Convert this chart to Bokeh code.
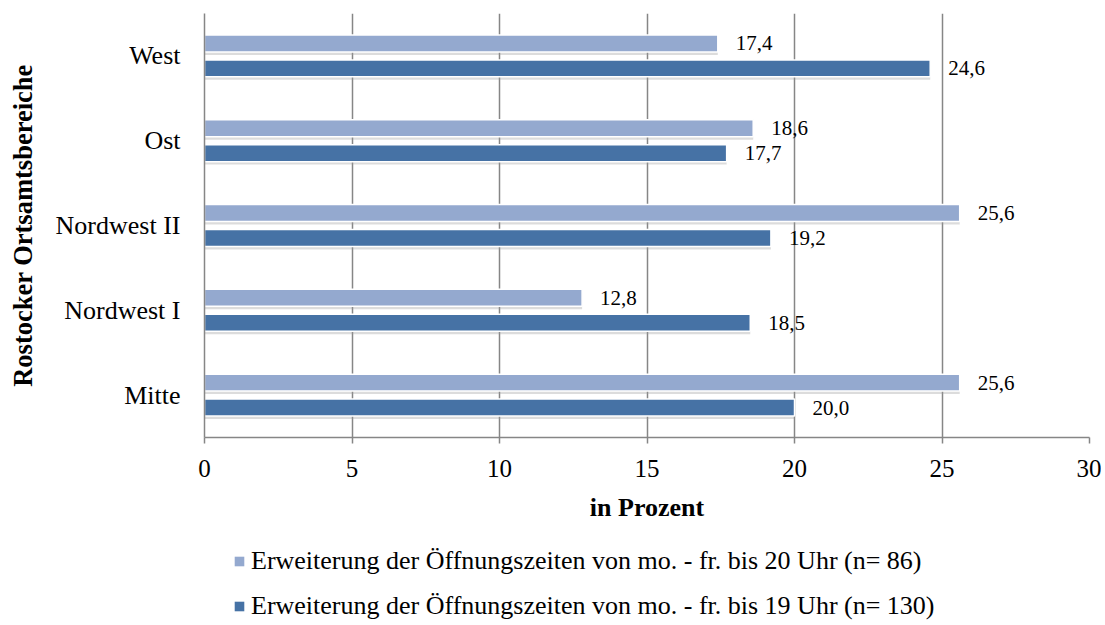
from bokeh.plotting import figure
from bokeh.layouts import column
from bokeh.models import ColumnDataSource, FactorRange, Range1d, Legend, LegendItem, FixedTicker
from bokeh.transform import dodge
from bokeh.embed import file_html
from bokeh.resources import INLINE

# ---- data ----
categories = ["Mitte", "Nordwest I", "Nordwest II", "Ost", "West"]
values_20 = [25.6, 12.8, 25.6, 18.6, 17.4]   # mo.-fr. bis 20 Uhr (n= 86)
values_19 = [20.0, 18.5, 19.2, 17.7, 24.6]   # mo.-fr. bis 19 Uhr (n= 130)
x_ticks = [0, 5, 10, 15, 20, 25, 30]
series_names = [
    "Erweiterung der Öffnungszeiten von mo. - fr. bis 20 Uhr (n= 86)",
    "Erweiterung der Öffnungszeiten von mo. - fr. bis 19 Uhr (n= 130)",
]

LIGHT = "#94A9CF"
DARK = "#4672A5"
FONT = "Liberation Serif"

src = ColumnDataSource(dict(
    cat=categories,
    v20=values_20,
    v19=values_19,
    l20=[f"{v:.1f}".replace(".", ",") for v in values_20],
    l19=[f"{v:.1f}".replace(".", ",") for v in values_19],
))

p = figure(frame_width=885, frame_height=424, y_range=FactorRange(*categories),
           x_range=Range1d(0, 30), output_backend="svg", toolbar_location=None,
           min_border_left=204, min_border_right=12, min_border_top=13,
           min_border_bottom=93)

OFF = 0.147
H = 0.2
SH = 0.035  # shadow shift

# shadows
p.hbar(y=dodge("cat", OFF - SH, range=p.y_range), right="v20", left=0, height=H,
       source=src, fill_color="#9a9a9a", fill_alpha=0.35, line_color=None)
p.hbar(y=dodge("cat", -OFF - SH, range=p.y_range), right="v19", left=0, height=H,
       source=src, fill_color="#9a9a9a", fill_alpha=0.35, line_color=None)

r20 = p.hbar(y=dodge("cat", OFF, range=p.y_range), right="v20", left=0, height=H,
             source=src, fill_color=LIGHT, line_color="white", line_width=1.5)
r19 = p.hbar(y=dodge("cat", -OFF, range=p.y_range), right="v19", left=0, height=H,
             source=src, fill_color=DARK, line_color="white", line_width=1.5)

p.text(x="v20", y=dodge("cat", OFF, range=p.y_range), text="l20", source=src,
       x_offset=18, text_baseline="middle", text_align="left",
       text_font={"value": FONT}, text_font_size="21px", text_color="black")
p.text(x="v19", y=dodge("cat", -OFF, range=p.y_range), text="l19", source=src,
       x_offset=18, text_baseline="middle", text_align="left",
       text_font={"value": FONT}, text_font_size="21px", text_color="black")

# grid / axes
p.xgrid.ticker = FixedTicker(ticks=x_ticks)
p.xgrid.grid_line_color = "#868686"
p.xgrid.grid_line_width = 1.5
p.ygrid.grid_line_color = None
p.outline_line_color = None
p.background_fill_color = "white"

p.xaxis.ticker = FixedTicker(ticks=x_ticks)
p.xaxis.axis_line_color = "#868686"
p.xaxis.axis_line_width = 1.5
p.xaxis.major_tick_line_color = "#868686"
p.xaxis.major_tick_line_width = 1.5
p.xaxis.major_tick_in = 0
p.xaxis.major_tick_out = 6
p.xaxis.minor_tick_line_color = None
p.xaxis.major_label_standoff = 16
p.xaxis.major_label_text_font = FONT
p.xaxis.major_label_text_font_size = "25px"
p.xaxis.major_label_text_color = "black"
p.xaxis.axis_label = "in Prozent"
p.xaxis.axis_label_text_font = FONT
p.xaxis.axis_label_text_font_size = "26px"
p.xaxis.axis_label_text_font_style = "bold"
p.xaxis.axis_label_text_color = "black"
p.xaxis.axis_label_standoff = 13

p.yaxis.axis_line_color = "#868686"
p.yaxis.axis_line_width = 1.5
p.yaxis.major_tick_line_color = None
p.yaxis.minor_tick_line_color = None
p.yaxis.major_label_standoff = 18
p.yaxis.major_label_text_font = FONT
p.yaxis.major_label_text_font_size = "26px"
p.yaxis.major_label_text_color = "black"
p.yaxis.axis_label = "Rostocker Ortsamtsbereiche"
p.yaxis.axis_label_text_font = FONT
p.yaxis.axis_label_text_font_size = "26.5px"
p.yaxis.axis_label_text_font_style = "bold"
p.yaxis.axis_label_text_color = "black"
p.yaxis.axis_label_standoff = 15

# ---- legend strip below the chart ----
pl = figure(width=1101, height=95, x_range=Range1d(0, 1), y_range=Range1d(0, 1),
            output_backend="svg", toolbar_location=None,
            x_axis_location=None, y_axis_location=None, min_border=0)
pl.grid.grid_line_color = None
pl.outline_line_color = None
lg20 = pl.hbar(y=[-5], right=[1], left=0, height=0.1,
               fill_color=LIGHT, line_color=None)
lg19 = pl.hbar(y=[-5], right=[1], left=0, height=0.1,
               fill_color=DARK, line_color=None)

legend = Legend(items=[LegendItem(label=series_names[0], renderers=[lg20]),
                       LegendItem(label=series_names[1], renderers=[lg19])],
                orientation="vertical", location=(29, 4),
                label_text_font=FONT, label_text_font_size="26px",
                label_text_color="black",
                glyph_width=12, glyph_height=12, label_standoff=6,
                spacing=15, label_height=28, border_line_color=None,
                background_fill_alpha=0, margin=0, padding=2)
pl.add_layout(legend)

layout = column(p, pl, spacing=0)
open("out.html", "w").write(file_html(layout, INLINE))
